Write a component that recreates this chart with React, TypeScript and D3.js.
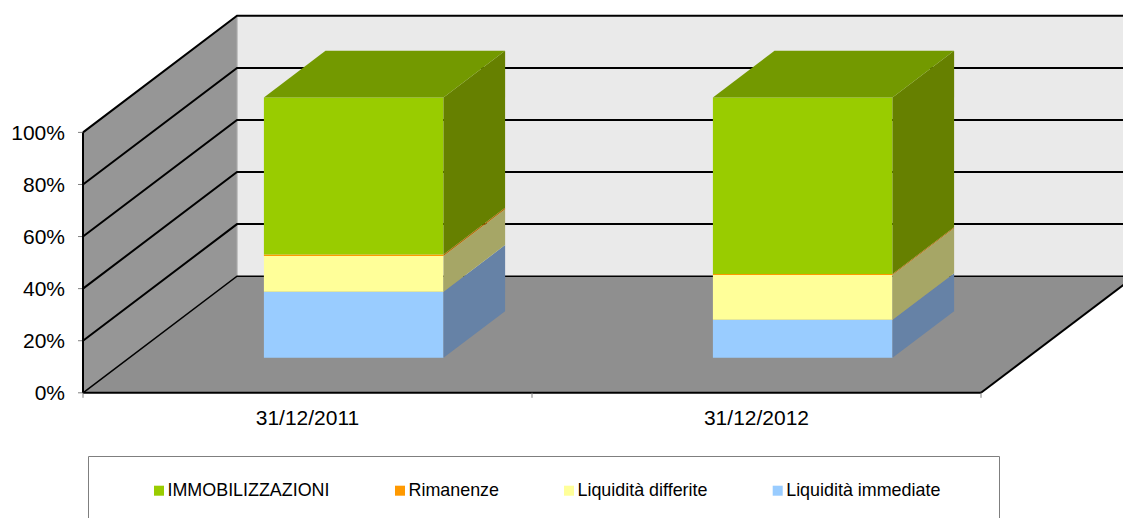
import React from "react";
import * as d3 from "d3";

const categories = ["31/12/2011", "31/12/2012"];
const seriesNames = ["Liquidità immediate", "Liquidità differite", "Rimanenze", "IMMOBILIZZAZIONI"];
const liquiditaImmediate = [25.4, 14.6];
const liquiditaDifferite = [13.7, 17.2];
const rimanenze = [0.6, 0.4];
const immobilizzazioni = [60.3, 67.8];
const seriesValues = [liquiditaImmediate, liquiditaDifferite, rimanenze, immobilizzazioni];
const yTicks = [0, 20, 40, 60, 80, 100];
const legendOrder = ["IMMOBILIZZAZIONI", "Rimanenze", "Liquidità differite", "Liquidità immediate"];
const legendX = [154, 395, 564, 772.7];
const frontColors = ["#99CCFF", "#FFFF99", "#FF9900", "#99CC00"];
const sideColors = ["#6682A6", "#A6A666", "#B36B00", "#668000"];
const topColors = ["#7399BF", "#BFBF73", "#BF7300", "#739900"];

const FONT = "'Liberation Sans', Arial, sans-serif";
const x0 = 83, x1 = 981, yBase = 392.8, yTop = 132.4;
const depthX = 154, depthY = -116.6;

const y = d3.scaleLinear().domain([0, 100]).range([yBase, yTop]);
const x = d3.scaleBand<string>().domain(categories).range([x0, x1]).paddingInner(0.6).paddingOuter(0.3);
const line = d3.line<[number, number]>().curve(d3.curveLinearClosed);
const open = d3.line<[number, number]>();

// projection of (plot x, plot y, depth 0..1) to the screen
const P = (px: number, py: number, d: number): [number, number] => [px + depthX * d, py + depthY * d];

const stackData = d3.stack<number>()
  .keys(d3.range(seriesNames.length).map(String))
  .value((i, k) => seriesValues[+k][i])(d3.range(categories.length));

export default function App() {
  const bw = x.bandwidth();
  const far = 1123 + 40;
  return (
    <svg width={1123} height={518} style={{ position: "absolute", left: 0, top: 0, background: "#fff" }}>
      <path d={line([P(x0, y(0), 1), P(far, y(0), 1), P(far, y(100), 1), P(x0, y(100), 1)])!} fill="#EAEAEA" />
      <path d={line([P(x0, y(0), 0), P(x0, y(0), 1), P(x0, y(100), 1), P(x0, y(100), 0)])!} fill="#969696" />
      <path d={line([P(x0, y(0), 0), P(x1, y(0), 0), P(x1, y(0), 1), P(x0, y(0), 1)])!} fill="#8F8F8F" />
      <path d={open([P(x0, y(0), 1), P(x0, y(100), 1)])!} stroke="#A8A8A8" strokeWidth={1.2} fill="none" />
      {yTicks.map((t) => (
        <g key={t}>
          <path d={open([P(x0, y(t), 0), P(x0, y(t), 1), P(far, y(t), 1)])!} fill="none" stroke="#000" strokeWidth={t === 0 ? 1.5 : 2} />
          <line x1={x0 - 5} x2={x0} y1={y(t)} y2={y(t)} stroke="#808080" strokeWidth={1} />
          <text x={65} y={y(t) + 7.5} textAnchor="end" fontFamily={FONT} fontSize={21} fill="#000">{t}%</text>
        </g>
      ))}
      <line x1={x0} x2={x0} y1={y(100)} y2={yBase} stroke="#000" strokeWidth={2} />
      <line x1={x0} x2={x1} y1={yBase} y2={yBase} stroke="#000" strokeWidth={2} />
      <path d={open([P(x1, yBase, 0), P(x1, yBase, 1)])!} stroke="#000" strokeWidth={2} fill="none" />
      {[x0, (x0 + x1) / 2, x1].map((t) => (
        <line key={t} x1={t} x2={t} y1={yBase} y2={yBase + 5} stroke="#808080" strokeWidth={1} />
      ))}
      {categories.map((c, i) => {
        const l = x(c)!;
        const r = l + bw;
        return (
          <g key={c}>
            {stackData.map((s, k) => {
              const a = y(s[i][0]);
              const b = y(s[i][1]);
              return (
                <g key={k}>
                  <path d={line([P(l, a, 0.3), P(r, a, 0.3), P(r, b, 0.3), P(l, b, 0.3)])!} fill={frontColors[k]} />
                  <path d={line([P(r, a, 0.3), P(r, a, 0.7), P(r, b, 0.7), P(r, b, 0.3)])!} fill={sideColors[k]} />
                  {k === stackData.length - 1 && (
                    <path d={line([P(l, b, 0.3), P(r, b, 0.3), P(r, b, 0.7), P(l, b, 0.7)])!} fill={topColors[k]} />
                  )}
                </g>
              );
            })}
            <text x={l + bw / 2} y={425} textAnchor="middle" fontFamily={FONT} fontSize={21} fill="#000">{c}</text>
          </g>
        );
      })}
      <path d="M88.5,530V456.5H999.5V530" fill="none" stroke="#7F7F7F" strokeWidth={1} />
      {legendOrder.map((n, i) => (
        <g key={n}>
          <rect x={legendX[i]} y={485.7} width={10} height={10} fill={frontColors[seriesNames.indexOf(n)]} />
          <text x={legendX[i] + 13.5} y={496} fontFamily={FONT} fontSize={17.9} fill="#000">{n}</text>
        </g>
      ))}
    </svg>
  );
}
